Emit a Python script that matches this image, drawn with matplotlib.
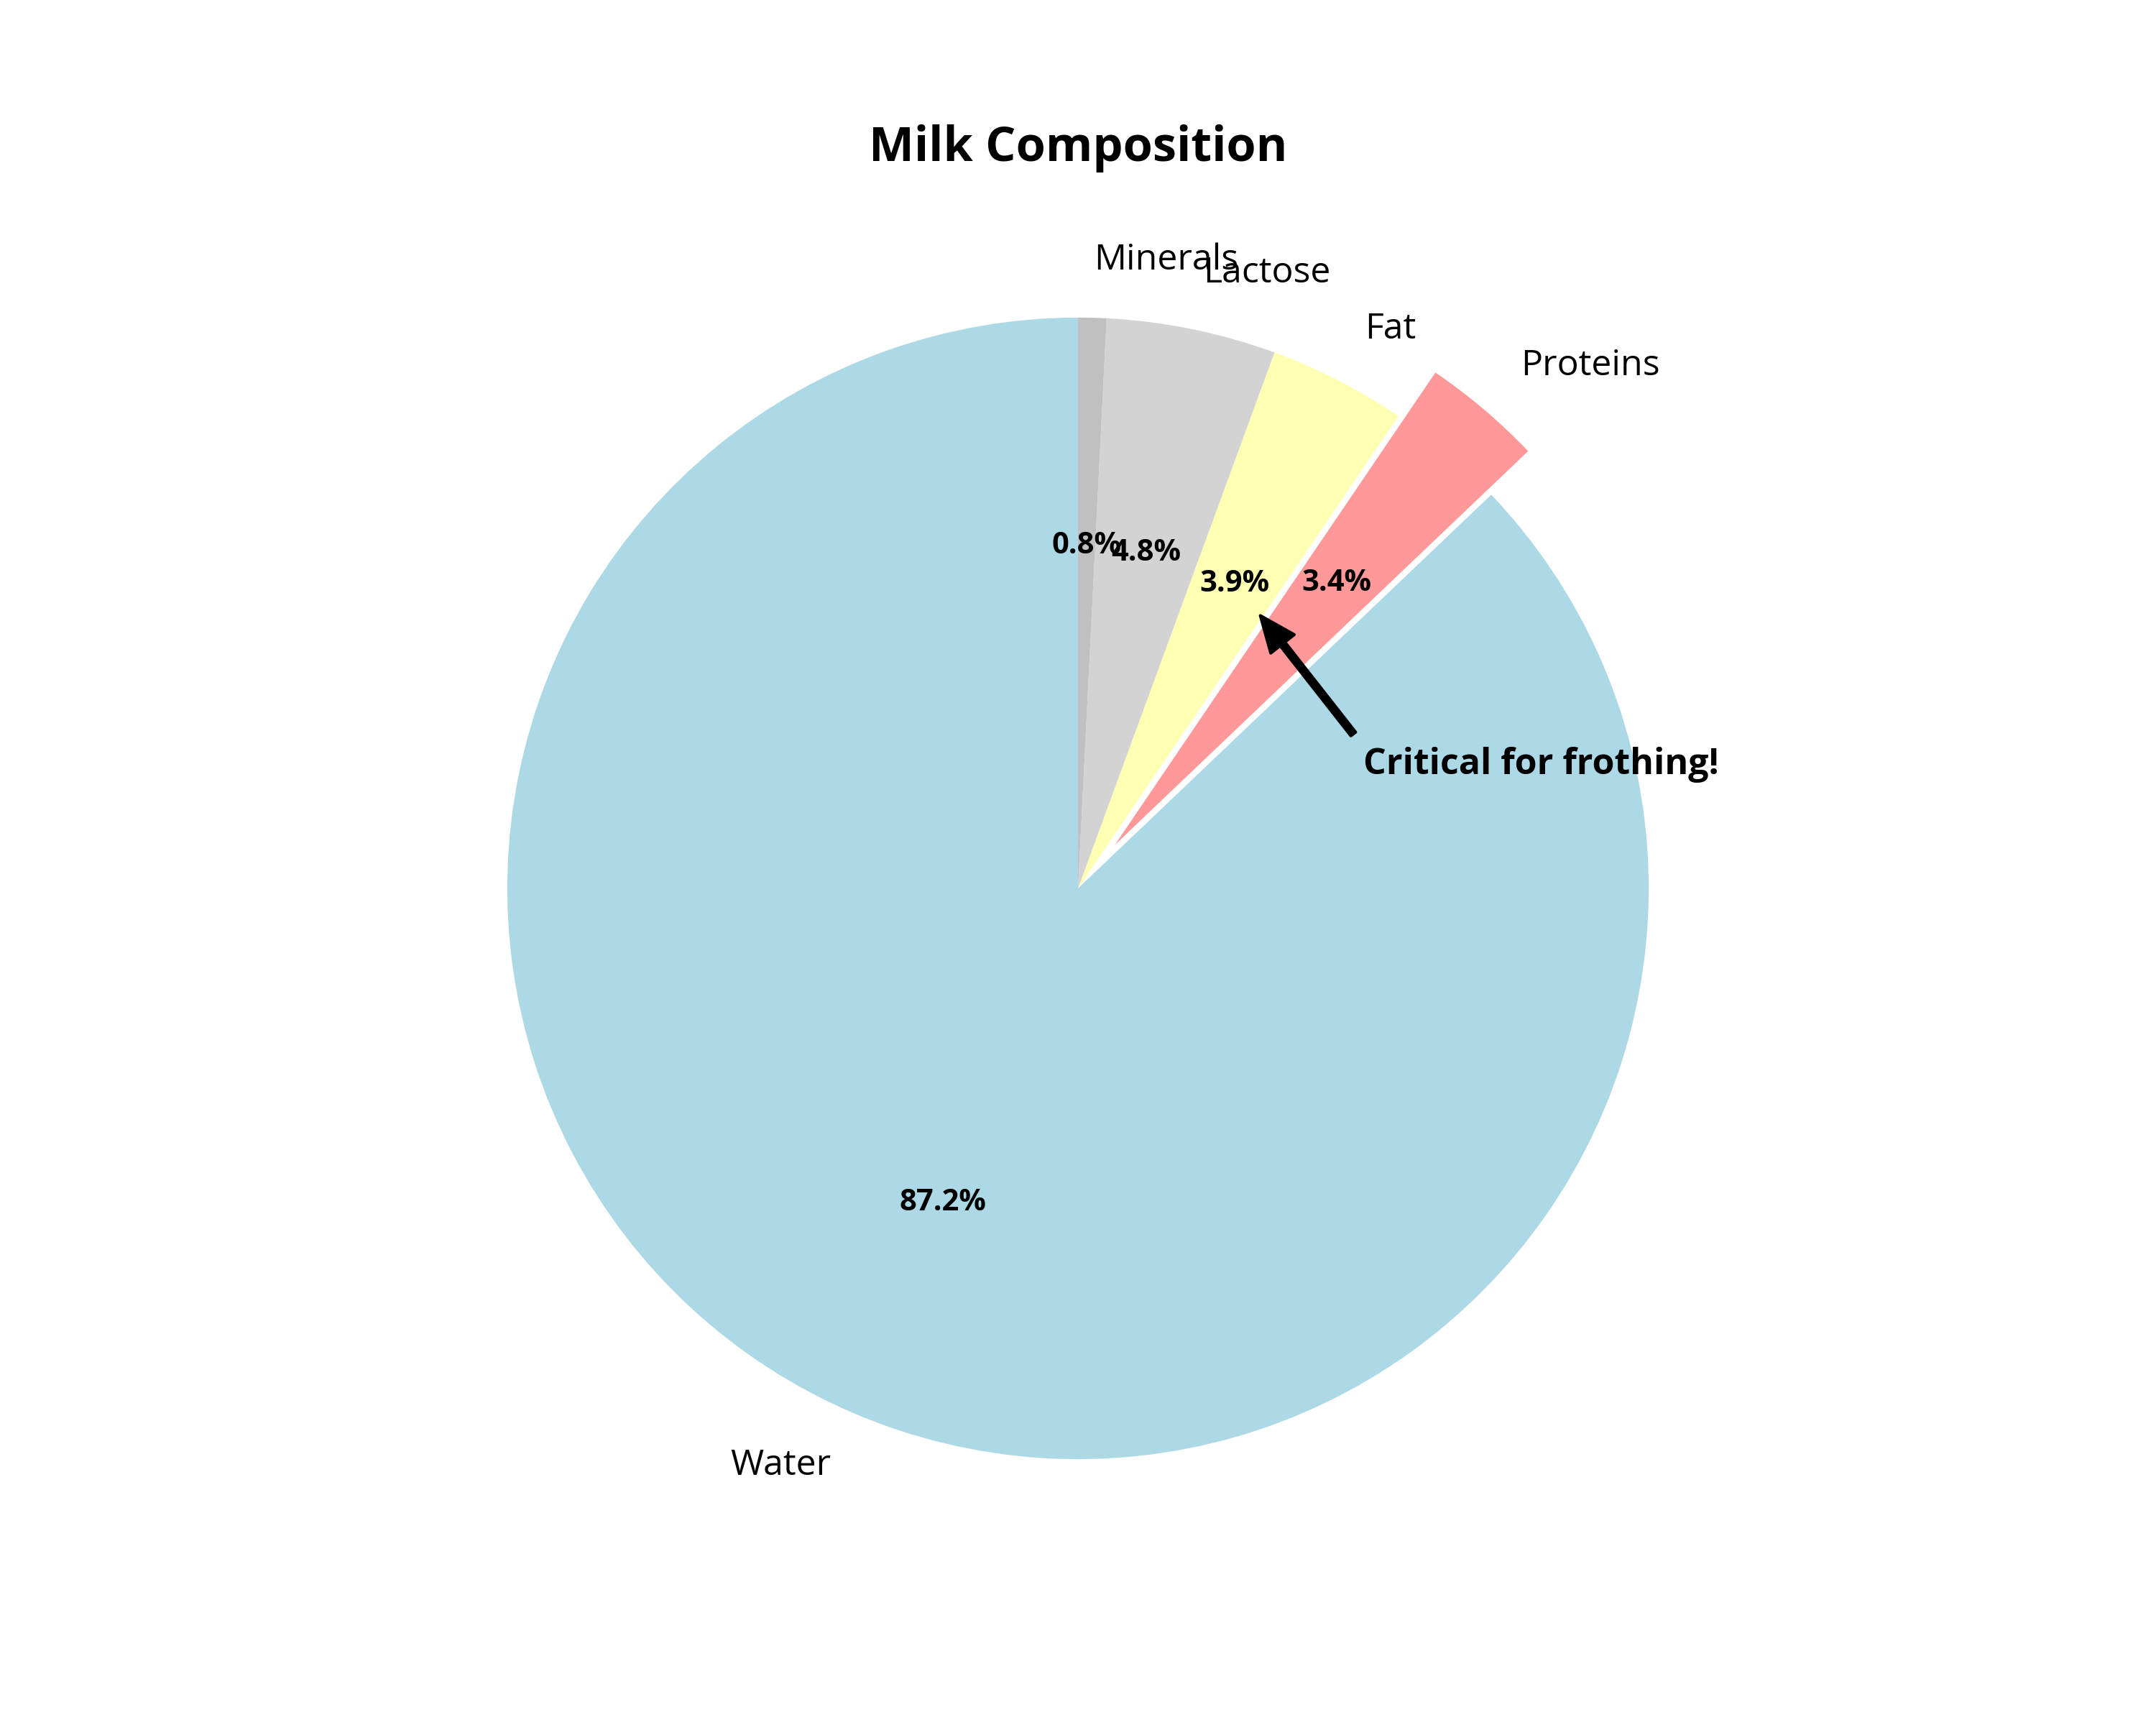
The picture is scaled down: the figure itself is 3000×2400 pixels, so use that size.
import matplotlib.pyplot as plt

plt.rcParams['font.family'] = ['Open Sans', 'DejaVu Sans']

components = ['Water', 'Proteins', 'Fat', 'Lactose', 'Minerals']
percentages = [87.2, 3.4, 3.9, 4.8, 0.8]
colors = ['#ADD8E6', '#FF9999', '#FFFFB3', '#D3D3D3', '#C0C0C0']
explode = [0, 0.1, 0, 0, 0]
total = sum(percentages)

fig, ax = plt.subplots(figsize=(10, 8), dpi=300)
fig.subplots_adjust(left=0.05, right=0.95, bottom=0.05, top=0.92)
wedges, texts, autotexts = ax.pie(percentages, labels=components, colors=colors,
                                  explode=explode,
                                  autopct=lambda p: '%1.1f%%' % (p * total / 100),
                                  startangle=90, textprops={'fontsize': 12})
for t in autotexts:
    t.set_fontsize(10)
    t.set_fontweight('bold')

ax.annotate('Critical for frothing!', xy=(0.31, 0.49), xytext=(0.5, 0.2),
            fontsize=12, fontweight='bold',
            arrowprops=dict(facecolor='black', shrink=0.05, width=2, headwidth=10))

ax.set_title('Milk Composition', fontsize=16, fontweight='bold', pad=20)
ax.set_aspect('equal')
ax.set_ylim(-1.17, 1.17)
ax.set_xlim(-1.7, 1.7)
plt.savefig('out.png')
